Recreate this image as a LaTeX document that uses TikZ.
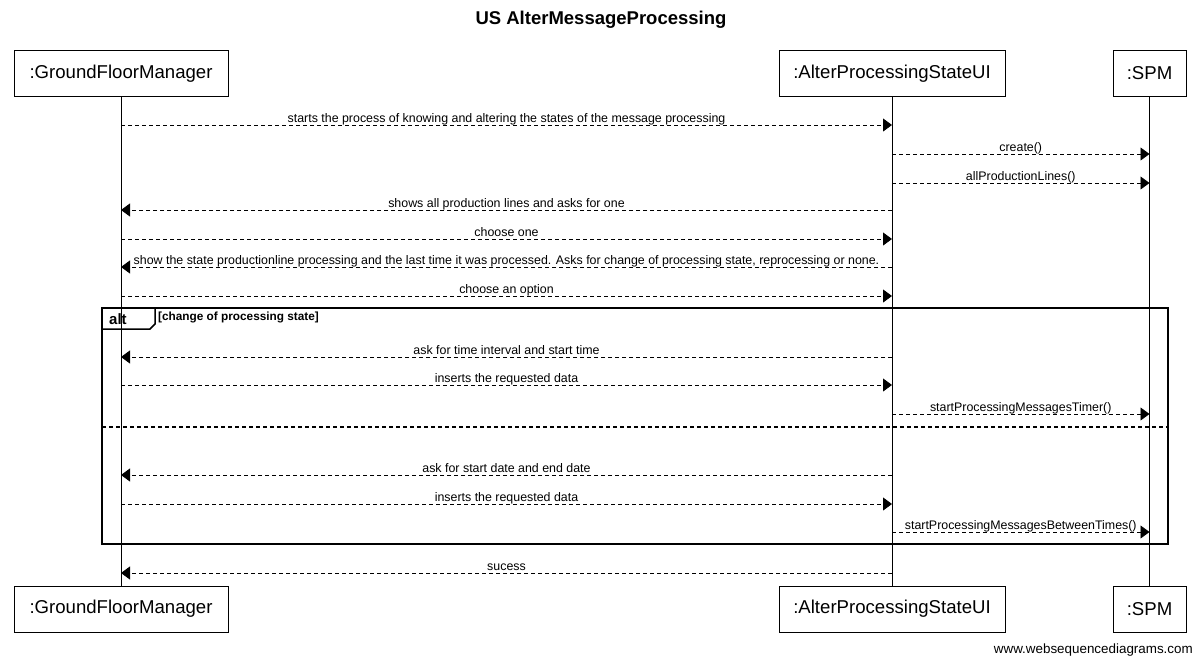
\documentclass[tikz,border=0pt]{standalone}
\usepackage{fontspec}
\setmainfont{Liberation Sans}
\usetikzlibrary{arrows.meta}
\begin{document}
\begin{tikzpicture}[x=1pt,y=-1pt,
  actor/.style={draw, line width=0.8pt, minimum height=46pt, inner sep=0pt, font=\fontsize{18.6}{20}\selectfont},
  lifeline/.style={line width=0.9pt},
  msg/.style={line width=0.8pt, dash pattern=on 4pt off 3pt, -{Triangle[length=9pt,width=13pt]}},
  lbl/.style={font=\fontsize{12.4}{13}\selectfont, anchor=base, inner sep=0pt, midway, yshift=3pt},
  frame/.style={line width=1.5pt}
]
\useasboundingbox (0,0) rectangle (1200,664);
\node[font=\bfseries\fontsize{18.5}{20}\selectfont] (title) at (601,20) {US AlterMessageProcessing};
% actors top
\node[actor, minimum width=214pt] (g) at (121,73.5) {:GroundFloorManager};
\node[actor, minimum width=226pt] (u) at (892,73.5) {:AlterProcessingStateUI};
\node[actor, minimum width=73pt] (s) at (1149.5,73.5) {:SPM};
% actors bottom
\node[actor, minimum width=214pt] (gb) at (121,609) {:GroundFloorManager};
\node[actor, minimum width=226pt] (ub) at (892,609) {:AlterProcessingStateUI};
\node[actor, minimum width=73pt] (sb) at (1149.5,609) {:SPM};
% lifelines
\draw[lifeline] (g) -- (gb);
\draw[lifeline] (u) -- (ub);
\draw[lifeline] (s) -- (sb);
% messages
\draw[msg] (g |- 0,125) -- (u |- 0,125) node[lbl] {starts the process of knowing and altering the states of the message processing};
\draw[msg] (u |- 0,154) -- (s |- 0,154) node[lbl] {create()};
\draw[msg] (u |- 0,183) -- (s |- 0,183) node[lbl] {allProductionLines()};
\draw[msg] (u |- 0,210) -- (g |- 0,210) node[lbl] {shows all production lines and asks for one};
\draw[msg] (g |- 0,239) -- (u |- 0,239) node[lbl] {choose one};
\draw[msg] (u |- 0,267) -- (g |- 0,267) node[lbl] {show the state productionline processing and the last time it was processed. Asks for change of processing state, reprocessing or none.};
\draw[msg] (g |- 0,296) -- (u |- 0,296) node[lbl] {choose an option};
% alt frame
\draw[frame] (102,308) rectangle (1168,544);
\draw[frame] (102,329) -- (150,329) -- (155,324) -- (155,308);
\node[font=\bfseries\fontsize{15}{16}\selectfont, anchor=base west, inner sep=0pt] (alt) at (109,324) {alt};
\node[font=\bfseries\fontsize{11.8}{12}\selectfont, anchor=base west, inner sep=0pt] (guard) at (158,320) {[change of processing state]};
\draw[msg] (u |- 0,357) -- (g |- 0,357) node[lbl] {ask for time interval and start time};
\draw[msg] (g |- 0,385) -- (u |- 0,385) node[lbl] {inserts the requested data};
\draw[msg] (u |- 0,414) -- (s |- 0,414) node[lbl] {startProcessingMessagesTimer()};
\draw[frame, dash pattern=on 4pt off 3pt] (102,427) -- (1168,427);
\draw[msg] (u |- 0,475) -- (g |- 0,475) node[lbl] {ask for start date and end date};
\draw[msg] (g |- 0,504) -- (u |- 0,504) node[lbl] {inserts the requested data};
\draw[msg] (u |- 0,532) -- (s |- 0,532) node[lbl] {startProcessingMessagesBetweenTimes()};
\draw[msg] (u |- 0,573) -- (g |- 0,573) node[lbl] {sucess};
% footer
\node[font=\fontsize{13.4}{14}\selectfont, anchor=east, inner sep=0pt] (footer) at (1193,650) {www.websequencediagrams.com};
\end{tikzpicture}
\end{document}
